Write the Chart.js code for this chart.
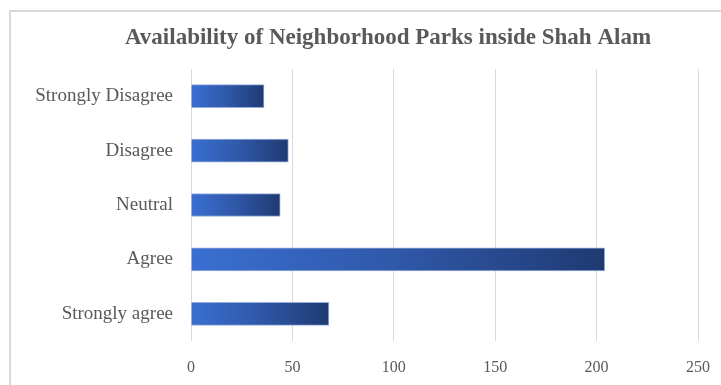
<!DOCTYPE html>
<html><head><meta charset="utf-8">
<script src="https://cdn.jsdelivr.net/npm/chart.js@4"></script>
<style>
html,body{margin:0;padding:0;background:#fff;}
#wrap{position:relative;width:721px;height:385px;overflow:hidden;}
#frame{position:absolute;left:9px;top:10px;width:800px;height:500px;border-left:2px solid #d9d9d9;border-top:2px solid #d9d9d9;box-sizing:border-box;}
canvas{position:absolute;left:0;top:0;}
</style></head>
<body><div id="wrap"><div id="frame"></div><canvas id="c" width="721" height="385"></canvas></div>
<script>
const titleText = "Availability of Neighborhood Parks inside Shah Alam";
const categories = ["Strongly Disagree", "Disagree", "Neutral", "Agree", "Strongly agree"];
const values = [36, 48, 44, 204, 68];
const tickValues = [0, 50, 100, 150, 200, 250];

function barGradient(ctx) {
  const chart = ctx.chart;
  const area = chart.chartArea;
  if (!area || ctx.type !== 'data') return '#2f5bb0';
  const xs = chart.scales.x;
  const x0 = xs.getPixelForValue(0);
  const x1 = xs.getPixelForValue(ctx.raw);
  const g = chart.ctx.createLinearGradient(x0, 0, x1, 0);
  g.addColorStop(0, '#3a6fd2');
  g.addColorStop(0.5, '#2f58a8');
  g.addColorStop(1, '#1f3a72');
  return g;
}

const titlePlugin = {
  id: 'offsetTitle',
  afterDraw(chart) {
    const c = chart.ctx;
    c.save();
    c.font = 'bold 23px "Liberation Serif"';
    c.fillStyle = '#595959';
    c.textAlign = 'center';
    c.textBaseline = 'middle';
    c.fillText(titleText, 388, 38);
    c.restore();
  }
};

new Chart(document.getElementById('c'), {
  type: 'bar',
  data: {
    labels: categories,
    datasets: [{
      data: values,
      backgroundColor: barGradient,
      borderColor: 'rgba(140,165,215,0.9)',
      borderWidth: {top:1,bottom:1,right:1,left:0},
      borderSkipped: false,
      barThickness: 23
    }]
  },
  plugins: [titlePlugin],
  options: {
    indexAxis: 'y',
    responsive: false,
    animation: false,
    layout: { padding: { left: 20, right: 23, top: 69, bottom: 0 } },
    plugins: {
      legend: { display: false },
      tooltip: { enabled: false },
      title: { display: false }
    },
    scales: {
      x: {
        min: 0, max: 250,
        afterBuildTicks: (s) => { s.ticks = tickValues.map(v => ({ value: v })); },
        afterFit: (s) => { s.height = 44; s.paddingRight = 0; s.paddingLeft = 0; },
        grid: { color: '#d9d9d9', lineWidth: 1, drawTicks: false },
        border: { display: false },
        ticks: { color: '#595959', font: { family: 'Liberation Serif', size: 16 }, padding: 17 }
      },
      y: {
        afterFit: (s) => { s.width = 171; },
        grid: { display: false, drawTicks: false },
        border: { display: false },
        ticks: { color: '#595959', font: { family: 'Liberation Serif', size: 19 }, padding: 18 }
      }
    }
  }
});
</script></body></html>
